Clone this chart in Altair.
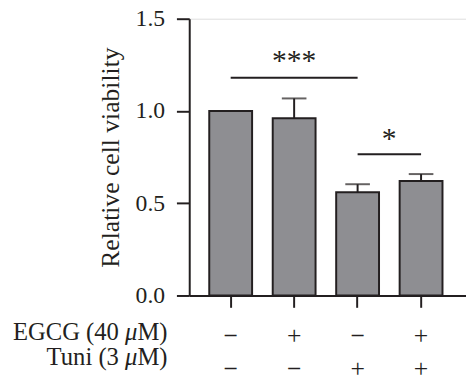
import altair as alt
import pandas as pd

groups = ["G1", "G2", "G3", "G4"]
egcg = ["−", "+", "−", "+"]
tuni = ["−", "−", "+", "+"]
viability = [1.0, 0.96, 0.56, 0.62]
upper = [None, 1.068, 0.603, 0.658]

sig_start = ["G1", "G3"]
sig_end = ["G3", "G4"]
sig_level = [1.18, 0.765]
sig_text = ["***", "*"]
sig_text_y = [1.27, 0.85]
sig_text_group = ["G2", "G3"]

row_heads = ["EGCG (40", "Tuni (3"]
row_units = ["μ", "μ"]
row_tails = ["M)", "M)"]
y_ticks = [0.0, 0.5, 1.0, 1.5]

FONT = "Liberation Serif, Times New Roman, serif"
INK = "#231f20"
FILL = "#8e8e92"
LAB = 25

bars_df = pd.DataFrame({"group": groups, "value": viability, "upper": upper,
                        "egcg": egcg, "tuni": tuni})
err_df = bars_df.dropna(subset=["upper"])
sig_df = pd.DataFrame({"start": sig_start, "end": sig_end, "level": sig_level})

xscale = alt.Scale(domain=groups, paddingInner=0.325, paddingOuter=0.343, align=0.46)
yscale = alt.Scale(domain=[0, 1.5], nice=False, zero=True)

xenc = alt.X("group:N", scale=xscale,
             axis=alt.Axis(title=None, labels=False, tickSize=12, tickWidth=2,
                           domainWidth=2, domainColor=INK, tickColor=INK))
yenc = alt.Y("value:Q", scale=yscale,
             axis=alt.Axis(title="Relative cell viability", values=y_ticks, format=".1f",
                           grid=False, tickSize=13, tickWidth=2, domainWidth=2,
                           domainColor=INK, tickColor=INK, labelFont=FONT,
                           labelFontSize=24, labelColor=INK, labelPadding=12,
                           titleFont=FONT, titleFontSize=26, titleFontWeight="normal",
                           titleColor=INK, titlePadding=12))

base = alt.Chart(bars_df)

bars = base.mark_bar(fill=FILL, stroke=INK, strokeWidth=2).encode(x=xenc, y=yenc)

err_line = alt.Chart(err_df).mark_rule(color=INK, strokeWidth=2).encode(
    x=alt.X("group:N", scale=xscale), y=alt.Y("value:Q", scale=yscale), y2="upper:Q")
err_cap = alt.Chart(err_df).mark_tick(color=INK, thickness=2, size=25, orient="horizontal").encode(
    x=alt.X("group:N", scale=xscale), y=alt.Y("upper:Q", scale=yscale))

sig_lines = alt.Chart(sig_df).mark_rule(color=INK, strokeWidth=2).encode(
    x=alt.X("start:N", scale=xscale), x2="end:N", y=alt.Y("level:Q", scale=yscale))

star3 = alt.Chart(pd.DataFrame({"g": [sig_text_group[0]], "ty": [sig_text_y[0]], "text": [sig_text[0]]})).mark_text(
    font=FONT, fontSize=30, color=INK, baseline="middle").encode(
    x=alt.X("g:N", scale=xscale), y=alt.Y("ty:Q", scale=yscale), text="text:N")
star1 = alt.Chart(pd.DataFrame({"g": [sig_text_group[1]], "ty": [sig_text_y[1]], "text": [sig_text[1]]})).mark_text(
    font=FONT, fontSize=30, color=INK, baseline="middle", dx=32).encode(
    x=alt.X("g:N", scale=xscale), y=alt.Y("ty:Q", scale=yscale), text="text:N")

row1 = base.mark_text(font=FONT, fontSize=26, color=INK, baseline="middle").encode(
    x=alt.X("group:N", scale=xscale), y=alt.value(322), text="egcg:N")
row2 = base.mark_text(font=FONT, fontSize=26, color=INK, baseline="middle").encode(
    x=alt.X("group:N", scale=xscale), y=alt.value(356), text="tuni:N")

heads_df = pd.DataFrame({"head": row_heads, "unit": row_units, "tail": row_tails,
                         "row": [0, 1]})
row_y = {0: 326, 1: 352}

label_layers = []
for r in [0, 1]:
    d = heads_df[heads_df.row == r]
    yv = alt.value(row_y[r])
    label_layers.append(alt.Chart(d).mark_text(
        font=FONT, fontSize=LAB, color=INK, align="right", baseline="alphabetic").encode(
        x=alt.value(-22), y=yv, text="tail:N"))
    label_layers.append(alt.Chart(d).mark_text(
        font=FONT, fontSize=LAB, fontStyle="italic", color=INK, align="right",
        baseline="alphabetic").encode(x=alt.value(-52.6), y=yv, text="unit:N"))
    label_layers.append(alt.Chart(d).mark_text(
        font=FONT, fontSize=LAB, color=INK, align="right", baseline="alphabetic").encode(
        x=alt.value(-71.4), y=yv, text="head:N"))

chart = alt.layer(bars, err_line, err_cap, sig_lines, star3, star1, row1, row2,
                  *label_layers).properties(
    width=281, height=281,
    autosize=alt.AutoSizeParams(type="none"),
    padding={"left": 184, "top": 8, "right": 0, "bottom": 88},
).configure_view(stroke=None).configure(background="white")

chart.save("out.html", embed_options={"renderer": "svg", "actions": False})
